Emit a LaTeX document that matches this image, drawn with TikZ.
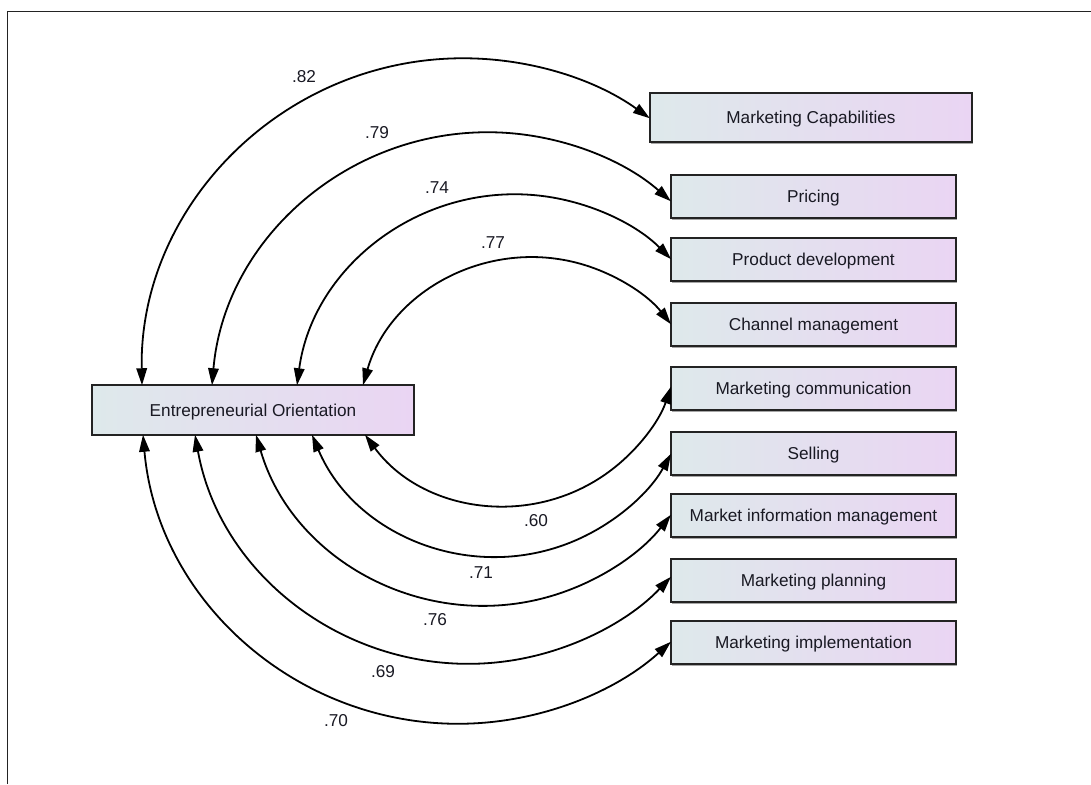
\documentclass[tikz,border=0pt]{standalone}
\usepackage{fontspec}
\setmainfont{Liberation Sans}
\usetikzlibrary{arrows.meta,shadows}
\definecolor{boxleft}{RGB}{222,233,235}
\definecolor{boxright}{RGB}{234,213,243}
\definecolor{boxline}{RGB}{35,35,35}
\definecolor{txt}{RGB}{25,25,35}
\begin{document}
\begin{tikzpicture}[x=1pt,y=-1pt,
  every node/.style={font=\fontsize{17.2}{20}\selectfont, text=txt},
  var/.style={draw=boxline, line width=1.9pt, left color=boxleft, right color=boxright,
    minimum height=43.5pt, minimum width=285pt, inner sep=0pt, outer sep=0pt,
    text height=12.3pt, text depth=0pt,
    general shadow={shadow xshift=1.3pt, shadow yshift=-1.3pt, fill=black, opacity=0.35}},
  bigvar/.style={var, minimum width=322pt, minimum height=49.5pt},
  bi/.style={draw=black, line width=1.8pt,
    {Triangle[length=17pt,width=10.5pt]}-{Triangle[length=17pt,width=10.5pt]}},
  coef/.style={inner sep=0pt}]
\useasboundingbox (0,0) rectangle (1091,784);
% frame
\draw[line width=1.6pt, draw=boxline] (7.5,784) -- (7.5,11.5) -- (1091,11.5);

% boxes
\node[bigvar] (eo)  at (253,410)   {Entrepreneurial Orientation};
\node[bigvar] (mc)  at (811,117.5) {Marketing Capabilities};
\node[var] (pr)  at (813.5,196.5) {Pricing};
\node[var] (pd)  at (813.5,259.5) {Product development};
\node[var] (cm)  at (813.5,324.5) {Channel management};
\node[var] (mco) at (813.5,388.5) {Marketing communication};
\node[var] (se)  at (813.5,453.5) {Selling};
\node[var] (mim) at (813.5,515.5) {Market information management};
\node[var] (mp)  at (813.5,580.5) {Marketing planning};
\node[var] (mi)  at (813.5,642.5) {Marketing implementation};

% upper covariance arcs
\draw[bi] ([xshift=50pt]eo.north west)  arc[start angle=178.93, end angle=305.61, radius=321];
\draw[bi] ([xshift=120pt]eo.north west) arc[start angle=184.97, end angle=311.34, radius=277];
\draw[bi] ([xshift=205pt]eo.north west) arc[start angle=187.58, end angle=315.18, radius=220];
\draw[bi] ([xshift=271pt]eo.north west) arc[start angle=195.87, end angle=321.73, radius=176.3];

% lower covariance arcs
\draw[bi] ([xshift=273pt]eo.south west) arc[start angle=143.62, end angle=18.54, radius=174.5];
\draw[bi] ([xshift=220pt]eo.south west) arc[start angle=157.09, end angle=28.96, radius=199.9];
\draw[bi] ([xshift=164pt]eo.south west) arc[start angle=163.74, end angle=38.08, radius=237.5];
\draw[bi] ([xshift=103pt]eo.south west) arc[start angle=169.8, end angle=43.42, radius=278.3];
\draw[bi] ([xshift=51pt]eo.south west)  arc[start angle=175.0, end angle=47.81, radius=316.6];

% coefficients
\node[coef] (c1) at (304,77)  {.82};
\node[coef] (c2) at (377,133) {.79};
\node[coef] (c3) at (437,188) {.74};
\node[coef] (c4) at (493,243) {.77};
\node[coef] (c5) at (536,521) {.60};
\node[coef] (c6) at (481,573) {.71};
\node[coef] (c7) at (435,620) {.76};
\node[coef] (c8) at (383,672) {.69};
\node[coef] (c9) at (336,721) {.70};
\end{tikzpicture}
\end{document}
